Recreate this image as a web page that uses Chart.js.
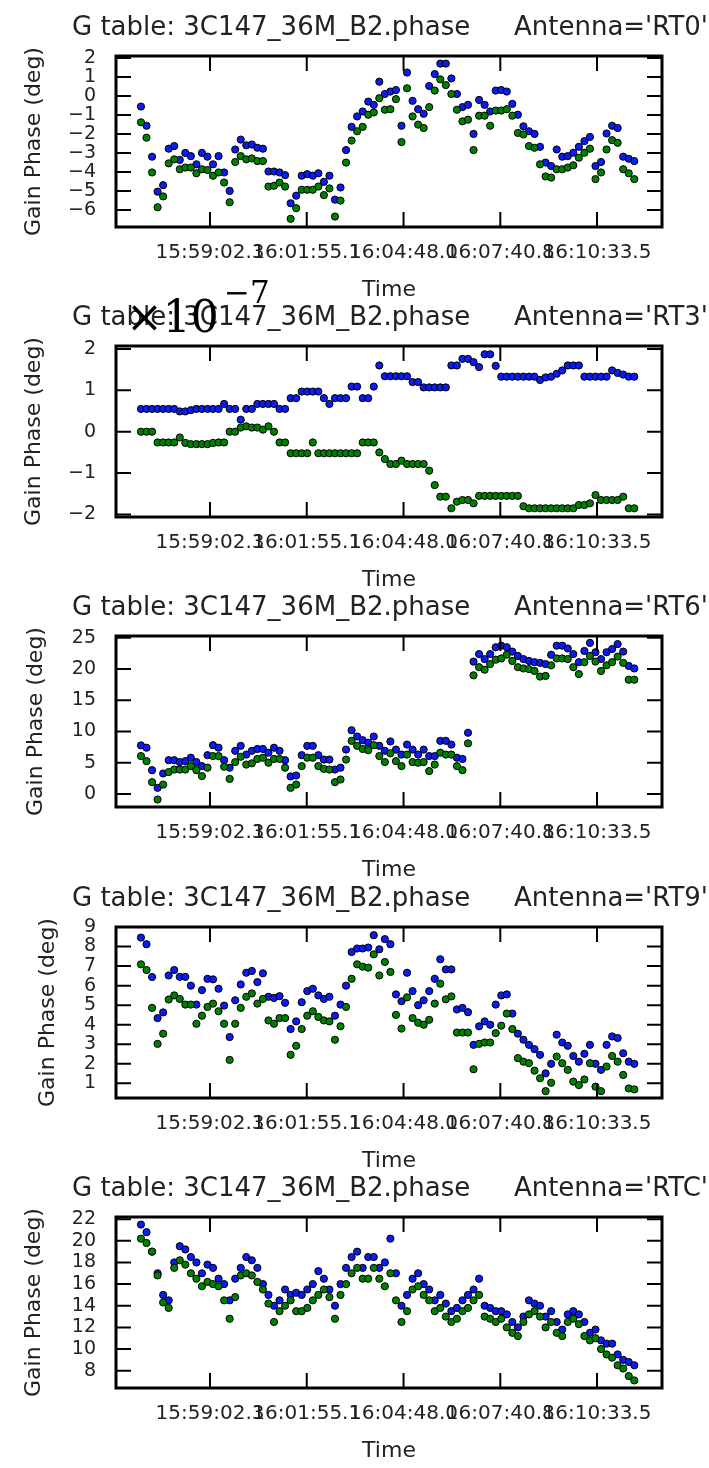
<!DOCTYPE html>
<html>
<head>
<meta charset="utf-8">
<title>G table: 3C147_36M_B2.phase</title>
<script src="https://cdn.jsdelivr.net/npm/chart.js@4.4.1/dist/chart.umd.min.js"></script>
<style>
  body { margin: 0; background: #fff; }
  #wrap { position: relative; width: 709px; height: 1468px; overflow: hidden; }
  canvas { position: absolute; left: 0; }
</style>
</head>
<body>
<div id="wrap">
  <canvas id="panel0" width="709" height="334"></canvas>
  <canvas id="panel1" width="709" height="334"></canvas>
  <canvas id="panel2" width="709" height="334"></canvas>
  <canvas id="panel3" width="709" height="334"></canvas>
  <canvas id="panel4" width="709" height="334"></canvas>
</div>
<script>
/* --------------- Data --------------------- */
const tableName = "3C147_36M_B2.phase";
const antennas = ["RT0", "RT3", "RT6", "RT9", "RTC"];
const xTickLabels = ["15:59:02.3", "16:01:55.1", "16:04:48.0", "16:07:40.8", "16:10:33.5"];
const xRange = ["15:56:14.4", "16:12:29.6"];
const firstSolution = "15:56:59.0";
const solutionInterval = 9.9; // seconds between solutions

// phase per antenna, first polarisation (blue)
const phaseRT0a = [-0.56, -1.57, -3.2, -5.04, -4.7, -2.78, -2.64, -3.37, -3.0, -3.17,
  -3.6, -3.0, -3.2, -3.6, -3.17, -4.03, -5.0, -2.82, -2.3, -2.6,
  -2.56, -2.73, -2.78, -3.98, -3.98, -4.03, -4.17, -5.65, -5.25, -4.2,
  -4.12, -4.2, -4.07, -4.52, -4.2, -5.46, -4.82, -2.85, -1.63, -1.08,
  -0.82, -0.3, -0.47, 0.75, 0.1, 0.23, 0.31, -1.57, 1.23, -0.26,
  -0.7, -0.94, 0.52, 1.15, 1.7, 1.7, 0.92, 0.1, -0.59, -0.47,
  -2.0, -0.21, -0.47, -0.82, 0.28, 0.31, 0.23, -0.42, -0.99, -1.6,
  -1.86, -2.0, -2.68, -3.51, -3.69, -2.82, -3.2, -3.17, -2.99, -2.68,
  -2.38, -2.16, -3.69, -3.48, -1.98, -1.57, -1.69, -3.2, -3.31, -3.43];
const phaseRT3a = [0.55, 0.55, 0.55, 0.55, 0.55, 0.55, 0.55, 0.49, 0.49, 0.52,
  0.55, 0.55, 0.55, 0.55, 0.55, 0.67, 0.55, 0.55, 0.29, 0.55,
  0.55, 0.67, 0.67, 0.67, 0.67, 0.55, 0.55, 0.81, 0.81, 0.97,
  0.97, 0.97, 0.97, 0.81, 0.67, 0.81, 0.81, 0.81, 1.09, 1.09,
  0.81, 0.81, 1.09, 1.6, 1.34, 1.34, 1.34, 1.34, 1.34, 1.2,
  1.2, 1.07, 1.07, 1.07, 1.07, 1.07, 1.6, 1.6, 1.76, 1.76,
  1.68, 1.56, 1.87, 1.87, 1.59, 1.33, 1.33, 1.33, 1.33, 1.33,
  1.33, 1.33, 1.25, 1.31, 1.33, 1.4, 1.48, 1.6, 1.6, 1.6,
  1.33, 1.33, 1.33, 1.33, 1.33, 1.48, 1.42, 1.38, 1.33, 1.33];
const phaseRT6a = [7.77, 7.4, 3.8, 0.97, 3.27, 5.4, 5.4, 5.1, 5.25, 5.8,
  5.1, 4.45, 6.2, 7.8, 7.4, 5.4, 4.2, 6.9, 7.7, 6.3,
  6.9, 7.2, 7.2, 6.6, 7.4, 6.9, 5.4, 2.8, 2.95, 6.2,
  7.7, 7.7, 6.2, 5.5, 5.5, 3.9, 4.2, 7.1, 10.2, 9.2,
  8.6, 8.2, 9.2, 7.7, 6.9, 8.4, 7.1, 6.3, 7.9, 7.1,
  6.3, 7.1, 6.06, 6.06, 8.5, 8.5, 7.9, 5.8, 5.6, 9.8,
  21.2, 22.4, 21.6, 22.4, 23.5, 23.75, 23.5, 22.8, 22.1, 21.6,
  21.3, 21.1, 21.0, 20.8, 22.3, 23.75, 23.75, 23.3, 22.4, 21.1,
  22.9, 24.2, 22.7, 21.6, 22.7, 23.2, 24.0, 22.8, 20.5, 20.1];
const phaseRT9a = [8.46, 8.12, 6.44, 4.34, 4.63, 6.52, 6.8, 6.45, 6.45, 6.0,
  5.03, 5.77, 6.35, 6.32, 5.84, 4.98, 3.37, 5.25, 6.06, 6.66,
  6.75, 6.18, 6.63, 5.43, 5.37, 5.46, 5.12, 3.78, 4.17, 5.15,
  5.72, 5.84, 5.5, 5.32, 5.43, 4.46, 5.03, 6.0, 7.72, 7.9,
  7.9, 7.95, 8.58, 7.86, 8.38, 8.12, 5.55, 5.2, 6.66, 5.72,
  5.0, 5.25, 5.72, 6.35, 7.35, 6.83, 6.83, 4.78, 4.86, 4.64,
  2.97, 3.92, 4.17, 4.0, 5.03, 5.5, 5.55, 4.57, 3.54, 3.23,
  2.97, 2.75, 2.46, 1.51, 2.0, 3.49, 3.09, 2.92, 2.4, 2.11,
  2.51, 2.97, 2.0, 1.69, 2.97, 3.4, 3.32, 2.54, 2.11, 2.0];
const phaseRTCa = [21.5, 20.8, 19.0, 17.0, 15.0, 14.5, 18.0, 19.5, 19.2, 18.5,
  18.0, 17.0, 17.8, 17.5, 16.5, 16.0, 14.5, 16.5, 17.5, 18.5,
  18.2, 17.5, 16.0, 15.0, 14.0, 14.5, 15.5, 15.0, 15.2, 15.0,
  15.5, 16.0, 17.2, 16.5, 15.5, 14.0, 16.0, 17.5, 18.5, 19.0,
  17.5, 18.5, 18.5, 17.5, 18.0, 20.2, 17.0, 14.0, 15.0, 16.5,
  17.0, 16.0, 15.5, 14.5, 15.0, 14.2, 13.5, 13.8, 14.5, 15.0,
  15.5, 16.5, 14.0, 13.8, 13.5, 13.5, 13.2, 12.5, 12.0, 13.0,
  14.5, 14.2, 14.0, 13.0, 13.5, 12.5, 11.8, 13.2, 13.5, 13.2,
  12.5, 11.5, 11.8, 10.8, 10.5, 10.5, 9.5, 9.0, 8.8, 8.5];

// second polarisation (green)
const phaseRT0b = [-1.39, -2.2, -4.03, -5.86, -5.29, -3.55, -3.34, -3.86, -3.77, -3.77,
  -4.07, -3.86, -3.9, -4.2, -4.03, -4.56, -5.6, -3.48, -3.17, -3.34,
  -3.29, -3.43, -3.43, -4.77, -4.73, -4.56, -4.77, -6.47, -5.91, -4.94,
  -4.94, -4.94, -4.77, -5.22, -4.87, -6.35, -5.51, -3.51, -2.35, -1.86,
  -1.63, -0.99, -0.87, -0.12, -0.73, -0.7, -0.17, -2.43, 0.4, -1.08,
  -1.51, -1.69, -0.59, 0.28, 0.87, 0.57, 0.1, -0.73, -1.34, -1.25,
  -2.85, -1.04, -1.04, -1.57, -0.77, -0.77, -0.7, -1.04, -1.95, -2.03,
  -2.64, -2.73, -3.6, -4.24, -4.3, -3.86, -3.86, -3.77, -3.65, -3.25,
  -2.99, -2.78, -4.38, -4.03, -2.82, -2.33, -2.47, -3.86, -4.07, -4.38];
const phaseRT3b = [0, 0, 0, -0.26, -0.26, -0.26, -0.26, -0.14, -0.27, -0.3,
  -0.3, -0.3, -0.3, -0.27, -0.26, -0.26, 0, 0, 0.1, 0.13,
  0.1, 0.1, 0.05, 0.13, 0, -0.26, -0.26, -0.52, -0.52, -0.52,
  -0.52, -0.26, -0.52, -0.52, -0.52, -0.52, -0.52, -0.52, -0.52, -0.52,
  -0.26, -0.26, -0.26, -0.5, -0.66, -0.78, -0.78, -0.7, -0.78, -0.78,
  -0.78, -0.78, -0.94, -1.29, -1.57, -1.57, -1.85, -1.69, -1.65, -1.65,
  -1.73, -1.55, -1.55, -1.55, -1.55, -1.55, -1.55, -1.55, -1.55, -1.8,
  -1.85, -1.85, -1.85, -1.85, -1.85, -1.85, -1.85, -1.85, -1.85, -1.77,
  -1.77, -1.73, -1.53, -1.65, -1.65, -1.65, -1.65, -1.57, -1.85, -1.85];
const phaseRT6b = [6.06, 5.25, 1.88, -0.9, 1.5, 3.5, 3.9, 3.9, 3.9, 4.45,
  3.8, 2.85, 4.2, 6.06, 6.06, 4.35, 2.4, 5.1, 5.95, 4.7,
  4.9, 5.6, 5.8, 5.0, 5.6, 5.6, 4.2, 0.97, 1.5, 4.45,
  5.8, 5.8, 4.45, 4.0, 3.9, 1.88, 2.3, 5.5, 8.5, 7.7,
  7.2, 7.0, 7.8, 6.06, 5.1, 6.5, 5.25, 4.45, 6.3, 5.1,
  5.0, 5.1, 3.65, 4.7, 6.6, 6.3, 6.3, 4.45, 3.8, 8.1,
  19.0, 20.3, 19.9, 20.8, 21.5, 21.7, 22.3, 21.3, 20.3, 20.1,
  20.0, 19.7, 18.8, 18.9, 20.6, 21.7, 21.7, 21.6, 20.3, 19.2,
  21.1, 22.1, 21.2, 19.7, 20.6, 21.1, 22.0, 21.0, 18.3, 18.3];
const phaseRT9b = [7.09, 6.8, 4.86, 3.02, 3.54, 5.29, 5.5, 5.32, 5.03, 5.03,
  4.05, 4.46, 4.91, 5.08, 4.69, 4.05, 2.2, 4.05, 4.86, 5.43,
  5.6, 5.08, 5.32, 4.22, 4.05, 4.34, 4.34, 2.46, 2.92, 3.78,
  4.46, 4.69, 4.4, 4.22, 4.17, 3.23, 3.92, 4.91, 6.35, 7.09,
  6.97, 6.92, 7.6, 6.52, 7.21, 6.7, 4.5, 3.8, 5.4, 4.34,
  4.1, 4.0, 4.25, 5.08, 6.1, 5.3, 5.45, 3.6, 3.6, 3.6,
  1.72, 3.02, 3.09, 3.09, 3.57, 3.95, 4.57, 3.78, 2.29, 2.11,
  2.03, 1.65, 1.26, 0.6, 1.03, 2.37, 2.03, 1.69, 1.09, 0.91,
  1.2, 2.03, 0.83, 0.6, 1.86, 2.4, 2.11, 1.43, 0.74, 0.69];
const phaseRTCb = [20.2, 19.8, 19.0, 16.8, 14.3, 13.8, 17.5, 18.2, 17.8, 17.0,
  16.5, 15.8, 16.2, 16.0, 15.8, 14.5, 12.8, 14.8, 16.8, 17.0,
  16.8, 16.2, 15.5, 14.2, 12.5, 13.5, 14.0, 14.5, 13.5, 13.5,
  13.8, 14.5, 15.0, 15.5, 14.8, 12.8, 15.0, 16.0, 17.0, 17.5,
  16.5, 16.5, 17.5, 16.5, 15.8, 17.0, 14.5, 12.5, 13.5, 15.5,
  15.8, 15.0, 14.5, 13.5, 13.8, 13.0, 12.5, 12.8, 13.5, 13.8,
  14.5, 15.0, 13.0, 12.8, 12.5, 12.8, 12.0, 11.5, 11.2, 12.5,
  13.2, 13.5, 13.0, 12.0, 12.5, 11.5, 11.2, 12.5, 12.8, 12.3,
  11.2, 10.8, 11.0, 10.0, 9.5, 9.2, 8.5, 8.2, 7.5, 7.1];

const yLimits = [[-6.9, 2.1], [-2.06, 2.07], [-2.1, 25.3], [0.25, 9.0], [6.4, 22.2]];
const yStep = [1, 1, 5, 1, 2];
const yExponent = [null, "\u22127", null, null, null]; // axis offset text (x10^-7)

/* --------------- Layout --------------------- */
const polA = [phaseRT0a, phaseRT3a, phaseRT6a, phaseRT9a, phaseRTCa];
const polB = [phaseRT0b, phaseRT3b, phaseRT6b, phaseRT9b, phaseRTCb];
const boxTops = [56, 346, 636, 927, 1217];
const yTitlePad = [21, 21, 23, 35, 21];
const PAD_TOP = 80;
const FONT = "DejaVu Sans";

Chart.defaults.font.family = FONT;
Chart.defaults.color = "#222";

const hms = (s) => {
  const [h, m, sec] = s.split(":");
  return +h * 3600 + +m * 60 + +sec;
};
const xTickSecs = xTickLabels.map(hms);
const t0 = hms(firstSolution);
const toPoints = (arr) => arr.map((v, k) => ({ x: t0 + k * solutionInterval, y: v }));
const fmt = (v) => String(v).replace("-", "\u2212");

/* --------------- Box and inward ticks --------------------- */
const frameTicks = {
  id: "frameTicks",
  afterDraw(chart) {
    const { ctx, chartArea: a, scales } = chart;
    const len = 15;
    ctx.save();
    ctx.strokeStyle = "#000";
    ctx.lineWidth = 2;
    ctx.beginPath();
    scales.x.ticks.forEach((t) => {
      const px = scales.x.getPixelForValue(t.value);
      ctx.moveTo(px, a.bottom);
      ctx.lineTo(px, a.bottom - len);
      ctx.moveTo(px, a.top);
      ctx.lineTo(px, a.top + len);
    });
    scales.y.ticks.forEach((t) => {
      const py = scales.y.getPixelForValue(t.value);
      ctx.moveTo(a.left, py);
      ctx.lineTo(a.left + len, py);
      ctx.moveTo(a.right, py);
      ctx.lineTo(a.right - len, py);
    });
    ctx.stroke();
    ctx.lineWidth = 3;
    ctx.strokeRect(a.left, a.top, a.right - a.left, a.bottom - a.top);
    ctx.restore();
  },
};

/* --------------- Title line + offset text --------------------- */
const panelTitle = {
  id: "panelTitle",
  afterDraw(chart, args, opts) {
    const { ctx, chartArea: a } = chart;
    ctx.save();
    ctx.fillStyle = "#222";
    ctx.font = '26px "' + FONT + '"';
    ctx.textBaseline = "alphabetic";
    ctx.textAlign = "left";
    ctx.fillText(opts.left, 72, a.top - 21);
    ctx.textAlign = "right";
    ctx.fillText(opts.right, 708, a.top - 21);
    if (opts.exponent) {
      ctx.fillStyle = "#000";
      ctx.textAlign = "left";
      ctx.font = '44px "DejaVu Serif"';
      ctx.fillText("\u00d710", 126, a.top - 14);
      ctx.font = '31px "DejaVu Serif"';
      ctx.fillText(opts.exponent, 224, a.top - 43);
    }
    ctx.restore();
  },
};

/* --------------- Charts --------------------- */
antennas.forEach((ant, i) => {
  const canvas = document.getElementById("panel" + i);
  canvas.style.top = boxTops[i] - PAD_TOP + "px";
  new Chart(canvas, {
    type: "scatter",
    plugins: [frameTicks, panelTitle],
    data: {
      datasets: [
        { label: "pol 2", data: toPoints(polB[i]), backgroundColor: "#008000" },
        { label: "pol 1", data: toPoints(polA[i]), backgroundColor: "#0a1cf0" },
      ],
    },
    options: {
      responsive: false,
      animation: false,
      events: [],
      layout: { autoPadding: false, padding: { left: 0, right: 47, top: PAD_TOP, bottom: 7 } },
      elements: { point: { radius: 3.6, borderWidth: 1, borderColor: "#000" } },
      plugins: {
        legend: { display: false },
        tooltip: { enabled: false },
        panelTitle: { left: "G table: " + tableName, right: "Antenna='" + ant + "'", exponent: yExponent[i] },
      },
      scales: {
        x: {
          type: "linear",
          min: hms(xRange[0]),
          max: hms(xRange[1]),
          grid: { display: false, drawTicks: false },
          border: { display: false },
          afterBuildTicks: (s) => {
            s.ticks = xTickSecs.map((value) => ({ value }));
          },
          afterFit: (s) => {
            s.height = 76;
          },
          ticks: {
            autoSkip: false,
            maxRotation: 0,
            minRotation: 0,
            padding: 14,
            font: { size: 20 },
            callback: (v, k) => xTickLabels[k],
          },
          title: { display: true, text: "Time", font: { size: 22 }, padding: 0 },
        },
        y: {
          min: yLimits[i][0],
          max: yLimits[i][1],
          grid: { display: false, drawTicks: false },
          border: { display: false },
          afterBuildTicks: (s) => {
            const st = yStep[i];
            const out = [];
            for (let v = Math.ceil(s.min / st) * st; v <= s.max + 1e-9; v += st) {
              out.push({ value: Math.round(v * 1000) / 1000 });
            }
            s.ticks = out;
          },
          afterFit: (s) => {
            s.width = 116;
          },
          ticks: {
            autoSkip: false,
            padding: 20,
            font: { size: 19 },
            callback: (v) => fmt(v),
          },
          title: {
            display: true,
            text: "Gain Phase (deg)",
            font: { size: 22 },
            padding: { top: yTitlePad[i], bottom: 0 },
          },
        },
      },
    },
  });
});
</script>
</body>
</html>
